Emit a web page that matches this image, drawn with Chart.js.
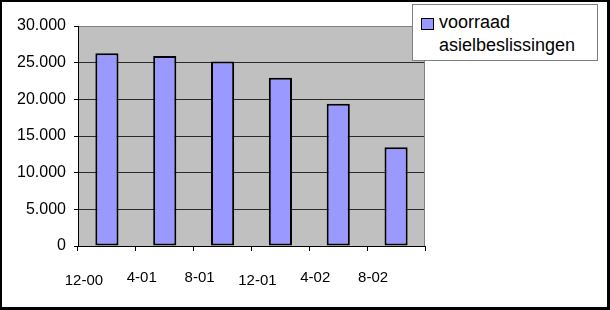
<!DOCTYPE html>
<html>
<head>
<meta charset="utf-8">
<script src="https://cdn.jsdelivr.net/npm/chart.js@4/dist/chart.umd.min.js"></script>
<style>
    html, body { margin: 0; padding: 0; background: #fff; }
    #frame {
        position: relative;
        width: 610px;
        height: 310px;
        box-sizing: border-box;
        border-style: solid;
        border-color: #000;
        border-width: 2px 3px 3px 2px;
        overflow: hidden;
    }
    #chart { position: absolute; left: -2px; top: -2px; }
    #legend {
        position: absolute;
        left: 410px;
        top: 2px;
        width: 186px;
        height: 57px;
        box-sizing: border-box;
        border: 1px solid #808080;
        background: #fff;
        font-family: "Liberation Sans", Arial, sans-serif;
        font-size: 18px;
        line-height: 23px;
        color: #000;
    }
    #legend .swatch {
        position: absolute;
        left: 8px;
        top: 13px;
        width: 13px;
        height: 12px;
        box-sizing: border-box;
        border: 1.5px solid #000;
    }
    #legend .text {
        position: absolute;
        left: 26px;
        top: 6px;
        width: 158px;
    }
</style>
</head>
<body>
<div id="frame">
    <canvas id="chart" width="610" height="310"></canvas>
    <div id="legend"></div>
</div>
<script>
// data
const categories = ["12-00", "4-01", "8-01", "12-01", "4-02", "8-02"];
const stockValues = [26300, 25900, 25150, 22950, 19400, 13450];
const seriesName = "voorraad asielbeslissingen";
const yTicks = [0, 5000, 10000, 15000, 20000, 25000, 30000];

// label heights so the 12-xx labels sit a bit lower, like the original
const xLabelLineHeights = ["25px", "20px", "20px", "25px", "20px", "20px"];

const barColor = "#9999ff";
const fontFamily = '"Liberation Sans", Arial, sans-serif';

function formatThousands(v) {
    return v.toString().replace(/\B(?=(\d{3})+(?!\d))/g, ".");
}

// gray plot area with the thin gray frame at the right
const plotArea = {
    id: "plotArea",
    beforeDraw(chart) {
        const { ctx, chartArea: a } = chart;
        ctx.save();
        ctx.fillStyle = "#c0c0c0";
        ctx.fillRect(a.left, a.top, a.right - a.left, a.bottom - a.top);
        ctx.restore();
    },
    afterDatasetsDraw(chart) {
        const { ctx, chartArea: a } = chart;
        ctx.save();
        ctx.strokeStyle = "#808080";
        ctx.lineWidth = 1;
        ctx.beginPath();
        ctx.moveTo(a.right - 0.5, a.top);
        ctx.lineTo(a.right - 0.5, a.bottom);
        ctx.stroke();
        ctx.restore();
    }
};

new Chart(document.getElementById("chart"), {
    type: "bar",
    data: {
        labels: categories,
        datasets: [{
            label: seriesName,
            data: stockValues,
            backgroundColor: barColor,
            borderColor: "#000",
            borderWidth: 2,
            borderSkipped: false,
            categoryPercentage: 1,
            barPercentage: 0.4,
        }],
    },
    options: {
        responsive: false,
        animation: false,
        devicePixelRatio: 1,
        layout: { padding: { left: 0, top: 26, right: 185, bottom: 0 } },
        plugins: {
            legend: { display: false },
            tooltip: { enabled: false },
        },
        scales: {
            x: {
                offset: true,
                grid: {
                    offset: true,
                    drawOnChartArea: false,
                    drawTicks: true,
                    tickLength: 5,
                    tickColor: "#000",
                },
                border: { color: "#000", width: 1 },
                ticks: {
                    color: "#000",
                    padding: 17,
                    labelOffset: -23,
                    maxRotation: 0,
                    autoSkip: false,
                    font: (c) => ({ family: fontFamily, size: 15, lineHeight: xLabelLineHeights[c.index] || "20px" }),
                },
                afterFit(scale) { scale.height = 64; },
            },
            y: {
                min: 0,
                max: 30000,
                afterBuildTicks(scale) {
                    scale.ticks = yTicks.map(v => ({ value: v }));
                },
                grid: {
                    color: (c) => c.tick && c.tick.value === 30000 ? "#808080" : "#2a2a2a",
                    lineWidth: 1,
                    tickLength: 4,
                    tickColor: "#000",
                },
                border: { color: "#000", width: 1 },
                ticks: {
                    color: "#000",
                    padding: 8,
                    font: { family: fontFamily, size: 16 },
                    callback: (v) => formatThousands(v),
                },
                afterFit(scale) { scale.width = 78; },
            },
        },
    },
    plugins: [plotArea],
});

// legend box drawn as html so the label can wrap like the original
const legend = document.getElementById("legend");
const swatch = document.createElement("span");
swatch.className = "swatch";
swatch.style.background = barColor;
const text = document.createElement("div");
text.className = "text";
text.textContent = seriesName;
legend.appendChild(swatch);
legend.appendChild(text);
</script>
</body>
</html>
